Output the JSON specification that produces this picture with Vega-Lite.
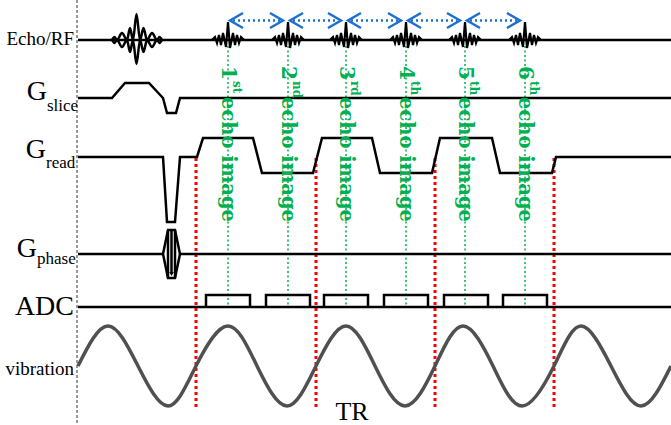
{
  "$schema": "https://vega.github.io/schema/vega-lite/v6.json",
  "width": 671,
  "height": 425,
  "autosize": "none",
  "padding": 0,
  "background": "white",
  "config": {"view": {"stroke": null}},
  "datasets": {
    "lines": [
      {"g":"rf0","o":0,"x":78,"y":40},{"g":"rf0","o":1,"x":671,"y":40},
      {"g":"sl","o":0,"x":78,"y":98},{"g":"sl","o":1,"x":112,"y":98},{"g":"sl","o":2,"x":125,"y":83},{"g":"sl","o":3,"x":149,"y":83},{"g":"sl","o":4,"x":163,"y":98},{"g":"sl","o":5,"x":167,"y":113},{"g":"sl","o":6,"x":176,"y":113},{"g":"sl","o":7,"x":180,"y":98},{"g":"sl","o":8,"x":671,"y":98},
      {"g":"rd","o":0,"x":78,"y":157},{"g":"rd","o":1,"x":163,"y":157},{"g":"rd","o":2,"x":167,"y":222},{"g":"rd","o":3,"x":175,"y":222},{"g":"rd","o":4,"x":180,"y":157},{"g":"rd","o":5,"x":197,"y":157},{"g":"rd","o":6,"x":203,"y":138},{"g":"rd","o":7,"x":253,"y":138},{"g":"rd","o":8,"x":262,"y":173},{"g":"rd","o":9,"x":313,"y":173},{"g":"rd","o":10,"x":322,"y":138},{"g":"rd","o":11,"x":372,"y":138},{"g":"rd","o":12,"x":380,"y":173},{"g":"rd","o":13,"x":432,"y":173},{"g":"rd","o":14,"x":440,"y":138},{"g":"rd","o":15,"x":492,"y":138},{"g":"rd","o":16,"x":500,"y":173},{"g":"rd","o":17,"x":552,"y":173},{"g":"rd","o":18,"x":556,"y":157},{"g":"rd","o":19,"x":671,"y":157},
      {"g":"ph","o":0,"x":78,"y":254},{"g":"ph","o":1,"x":163,"y":254},{"g":"ph","o":2,"x":168,"y":230},{"g":"ph","o":3,"x":175,"y":230},{"g":"ph","o":4,"x":180,"y":254},{"g":"ph","o":5,"x":671,"y":254},
      {"g":"ph2","o":0,"x":163,"y":254},{"g":"ph2","o":1,"x":168,"y":278},{"g":"ph2","o":2,"x":175,"y":278},{"g":"ph2","o":3,"x":180,"y":254},
      {"g":"ph3","o":0,"x":168,"y":230},{"g":"ph3","o":1,"x":168,"y":278},
      {"g":"ph4","o":0,"x":175,"y":230},{"g":"ph4","o":1,"x":175,"y":278},
      {"g":"ph5","o":0,"x":171.5,"y":231},{"g":"ph5","o":1,"x":171.5,"y":272},
      {"g":"adc","o":0,"x":78,"y":307},{"g":"adc","o":1,"x":671,"y":307},
      {"g":"b1","o":0,"x":206,"y":307},{"g":"b1","o":1,"x":206,"y":295},{"g":"b1","o":2,"x":250,"y":295},{"g":"b1","o":3,"x":250,"y":307},
      {"g":"b2","o":0,"x":266,"y":307},{"g":"b2","o":1,"x":266,"y":295},{"g":"b2","o":2,"x":310,"y":295},{"g":"b2","o":3,"x":310,"y":307},
      {"g":"b3","o":0,"x":324,"y":307},{"g":"b3","o":1,"x":324,"y":295},{"g":"b3","o":2,"x":368,"y":295},{"g":"b3","o":3,"x":368,"y":307},
      {"g":"b4","o":0,"x":384,"y":307},{"g":"b4","o":1,"x":384,"y":295},{"g":"b4","o":2,"x":428,"y":295},{"g":"b4","o":3,"x":428,"y":307},
      {"g":"b5","o":0,"x":444,"y":307},{"g":"b5","o":1,"x":444,"y":295},{"g":"b5","o":2,"x":488,"y":295},{"g":"b5","o":3,"x":488,"y":307},
      {"g":"b6","o":0,"x":503,"y":307},{"g":"b6","o":1,"x":503,"y":295},{"g":"b6","o":2,"x":547,"y":295},{"g":"b6","o":3,"x":547,"y":307}
    ],
    "rf": [
      {"g":"u","x":112,"y":40},{"g":"u","x":114.5,"y":37},{"g":"u","x":117,"y":40},{"g":"u","x":122,"y":33},{"g":"u","x":127,"y":40},{"g":"u","x":130,"y":28},{"g":"u","x":133,"y":40},{"g":"u","x":136.5,"y":14},{"g":"u","x":140,"y":40},{"g":"u","x":143.5,"y":28},{"g":"u","x":147,"y":40},{"g":"u","x":152,"y":33},{"g":"u","x":157,"y":40},{"g":"u","x":159.5,"y":37},{"g":"u","x":162,"y":40},
      {"g":"l","x":112,"y":40},{"g":"l","x":114.5,"y":43},{"g":"l","x":117,"y":40},{"g":"l","x":122,"y":47},{"g":"l","x":127,"y":40},{"g":"l","x":130,"y":52},{"g":"l","x":133,"y":40},{"g":"l","x":136.5,"y":64},{"g":"l","x":140,"y":40},{"g":"l","x":143.5,"y":52},{"g":"l","x":147,"y":40},{"g":"l","x":152,"y":47},{"g":"l","x":157,"y":40},{"g":"l","x":159.5,"y":43},{"g":"l","x":162,"y":40}
    ],
    "echo": [
      {"g":"e1","x":212,"y":40},{"g":"e1","x":215,"y":37},{"g":"e1","x":217,"y":43},{"g":"e1","x":219,"y":35},{"g":"e1","x":221,"y":45},{"g":"e1","x":223,"y":33},{"g":"e1","x":226,"y":47},{"g":"e1","x":228,"y":22},{"g":"e1","x":230,"y":48},{"g":"e1","x":233,"y":33},{"g":"e1","x":235,"y":45},{"g":"e1","x":237,"y":35},{"g":"e1","x":239,"y":43},{"g":"e1","x":241,"y":37},{"g":"e1","x":244,"y":40},
      {"g":"e2","x":272,"y":40},{"g":"e2","x":275,"y":37},{"g":"e2","x":277,"y":43},{"g":"e2","x":279,"y":35},{"g":"e2","x":281,"y":45},{"g":"e2","x":283,"y":33},{"g":"e2","x":286,"y":47},{"g":"e2","x":288,"y":22},{"g":"e2","x":290,"y":48},{"g":"e2","x":293,"y":33},{"g":"e2","x":295,"y":45},{"g":"e2","x":297,"y":35},{"g":"e2","x":299,"y":43},{"g":"e2","x":301,"y":37},{"g":"e2","x":304,"y":40},
      {"g":"e3","x":330,"y":40},{"g":"e3","x":333,"y":37},{"g":"e3","x":335,"y":43},{"g":"e3","x":337,"y":35},{"g":"e3","x":339,"y":45},{"g":"e3","x":341,"y":33},{"g":"e3","x":344,"y":47},{"g":"e3","x":346,"y":22},{"g":"e3","x":348,"y":48},{"g":"e3","x":351,"y":33},{"g":"e3","x":353,"y":45},{"g":"e3","x":355,"y":35},{"g":"e3","x":357,"y":43},{"g":"e3","x":359,"y":37},{"g":"e3","x":362,"y":40},
      {"g":"e4","x":390,"y":40},{"g":"e4","x":393,"y":37},{"g":"e4","x":395,"y":43},{"g":"e4","x":397,"y":35},{"g":"e4","x":399,"y":45},{"g":"e4","x":401,"y":33},{"g":"e4","x":404,"y":47},{"g":"e4","x":406,"y":22},{"g":"e4","x":408,"y":48},{"g":"e4","x":411,"y":33},{"g":"e4","x":413,"y":45},{"g":"e4","x":415,"y":35},{"g":"e4","x":417,"y":43},{"g":"e4","x":419,"y":37},{"g":"e4","x":422,"y":40},
      {"g":"e5","x":449,"y":40},{"g":"e5","x":452,"y":37},{"g":"e5","x":454,"y":43},{"g":"e5","x":456,"y":35},{"g":"e5","x":458,"y":45},{"g":"e5","x":460,"y":33},{"g":"e5","x":463,"y":47},{"g":"e5","x":465,"y":22},{"g":"e5","x":467,"y":48},{"g":"e5","x":470,"y":33},{"g":"e5","x":472,"y":45},{"g":"e5","x":474,"y":35},{"g":"e5","x":476,"y":43},{"g":"e5","x":478,"y":37},{"g":"e5","x":481,"y":40},
      {"g":"e6","x":509,"y":40},{"g":"e6","x":512,"y":37},{"g":"e6","x":514,"y":43},{"g":"e6","x":516,"y":35},{"g":"e6","x":518,"y":45},{"g":"e6","x":520,"y":33},{"g":"e6","x":523,"y":47},{"g":"e6","x":525,"y":22},{"g":"e6","x":527,"y":48},{"g":"e6","x":530,"y":33},{"g":"e6","x":532,"y":45},{"g":"e6","x":534,"y":35},{"g":"e6","x":536,"y":43},{"g":"e6","x":538,"y":37},{"g":"e6","x":541,"y":40}
    ],
    "vib": [
      {"x":78,"y":366},{"x":108,"y":326},{"x":138,"y":366},{"x":168,"y":406},{"x":196,"y":366},{"x":228,"y":326},{"x":257,"y":366},{"x":287,"y":406},{"x":316,"y":366},{"x":346,"y":326},{"x":375,"y":366},{"x":405,"y":406},{"x":435,"y":366},{"x":463,"y":326},{"x":493,"y":366},{"x":522,"y":406},{"x":554,"y":366},{"x":581,"y":326},{"x":611,"y":366},{"x":641,"y":406},{"x":671,"y":366}
    ],
    "chev": [
      {"g":"a1","o":0,"x":243,"y":13},{"g":"a1","o":1,"x":230,"y":20.5},{"g":"a1","o":2,"x":243,"y":28},
      {"g":"b1","o":0,"x":270,"y":13},{"g":"b1","o":1,"x":283,"y":20.5},{"g":"b1","o":2,"x":270,"y":28},
      {"g":"a2","o":0,"x":303,"y":13},{"g":"a2","o":1,"x":290,"y":20.5},{"g":"a2","o":2,"x":303,"y":28},
      {"g":"b2","o":0,"x":328,"y":13},{"g":"b2","o":1,"x":341,"y":20.5},{"g":"b2","o":2,"x":328,"y":28},
      {"g":"a3","o":0,"x":361,"y":13},{"g":"a3","o":1,"x":348,"y":20.5},{"g":"a3","o":2,"x":361,"y":28},
      {"g":"b3","o":0,"x":388,"y":13},{"g":"b3","o":1,"x":401,"y":20.5},{"g":"b3","o":2,"x":388,"y":28},
      {"g":"a4","o":0,"x":421,"y":13},{"g":"a4","o":1,"x":408,"y":20.5},{"g":"a4","o":2,"x":421,"y":28},
      {"g":"b4","o":0,"x":447,"y":13},{"g":"b4","o":1,"x":460,"y":20.5},{"g":"b4","o":2,"x":447,"y":28},
      {"g":"a5","o":0,"x":480,"y":13},{"g":"a5","o":1,"x":467,"y":20.5},{"g":"a5","o":2,"x":480,"y":28},
      {"g":"b5","o":0,"x":507,"y":13},{"g":"b5","o":1,"x":520,"y":20.5},{"g":"b5","o":2,"x":507,"y":28}
    ],
    "bluedot": [
      {"x":233,"x2":280,"y":20.5},{"x":293,"x2":338,"y":20.5},{"x":351,"x2":398,"y":20.5},{"x":411,"x2":457,"y":20.5},{"x":470,"x2":517,"y":20.5}
    ],
    "green": [
      {"x":228,"sx":237,"y":46,"y2":306,"n":"1","s":"st"},{"x":288,"sx":297,"y":46,"y2":306,"n":"2","s":"nd"},{"x":346,"sx":355,"y":46,"y2":306,"n":"3","s":"rd"},{"x":406,"sx":415,"y":46,"y2":306,"n":"4","s":"th"},{"x":465,"sx":474,"y":46,"y2":306,"n":"5","s":"th"},{"x":525,"sx":534,"y":46,"y2":306,"n":"6","s":"th"}
    ],
    "red": [
      {"x":196,"y":158,"y2":408},{"x":316,"y":158,"y2":408},{"x":435,"y":158,"y2":408},{"x":554,"y":158,"y2":408}
    ],
    "big": [
      {"t":"G","x":47,"y":100},{"t":"G","x":46,"y":158},{"t":"G","x":37,"y":257},{"t":"ADC","x":74,"y":315}
    ],
    "sub": [
      {"t":"slice","x":47,"y":111},{"t":"read","x":46,"y":168},{"t":"phase","x":37,"y":264}
    ],
    "mid": [
      {"t":"Echo/RF","x":74,"y":45},{"t":"vibration","x":74,"y":375}
    ]
  },
  "encoding": {
    "x": {"field": "x", "type": "quantitative", "scale": {"domain": [0, 671], "nice": false, "zero": false}, "axis": null},
    "y": {"field": "y", "type": "quantitative", "scale": {"domain": [0, 425], "nice": false, "zero": false, "reverse": true}, "axis": null}
  },
  "layer": [
    {
      "data": {"values": [{"x": 77, "y": 0, "y2": 425}]},
      "mark": {"type": "rule", "color": "#333333", "strokeWidth": 1, "strokeDash": [3, 2]},
      "encoding": {"y2": {"field": "y2"}}
    },
    {
      "data": {"name": "green"},
      "mark": {"type": "rule", "color": "#00b050", "strokeWidth": 1.5, "strokeDash": [2, 2.5]},
      "encoding": {"y2": {"field": "y2"}}
    },
    {
      "data": {"name": "red"},
      "mark": {"type": "rule", "color": "#ff0000", "strokeWidth": 3, "strokeDash": [3, 3]},
      "encoding": {"y2": {"field": "y2"}}
    },
    {
      "data": {"name": "lines"},
      "mark": {"type": "line", "color": "black", "strokeWidth": 2.5},
      "encoding": {"detail": {"field": "g"}, "order": {"field": "o", "type": "quantitative"}}
    },
    {
      "data": {"values": [{"x": 171.5, "y": 274}]},
      "mark": {"type": "point", "shape": "triangle-down", "filled": true, "color": "black", "size": 22, "opacity": 1}
    },
    {
      "data": {"name": "rf"},
      "mark": {"type": "line", "color": "black", "strokeWidth": 2.5, "interpolate": "monotone"},
      "encoding": {"detail": {"field": "g"}}
    },
    {
      "data": {"name": "echo"},
      "mark": {"type": "line", "color": "black", "strokeWidth": 2.2},
      "encoding": {"detail": {"field": "g"}}
    },
    {
      "data": {"name": "vib"},
      "mark": {"type": "line", "color": "#505050", "strokeWidth": 3.5, "interpolate": "natural"}
    },
    {
      "data": {"name": "chev"},
      "mark": {"type": "line", "color": "#1f6fd1", "strokeWidth": 2.5},
      "encoding": {"detail": {"field": "g"}, "order": {"field": "o", "type": "quantitative"}}
    },
    {
      "data": {"name": "bluedot"},
      "mark": {"type": "rule", "color": "#1f6fd1", "strokeWidth": 2.5, "strokeDash": [2, 3]},
      "encoding": {"x2": {"field": "x2"}}
    },
    {
      "data": {"name": "green"},
      "mark": {"type": "text", "angle": 90, "align": "left", "baseline": "middle", "font": "DejaVu Serif", "fontWeight": "bold", "fontSize": 20, "color": "#00b050"},
      "encoding": {"y": {"datum": 66}, "text": {"field": "n"}}
    },
    {
      "data": {"name": "green"},
      "mark": {"type": "text", "angle": 90, "align": "left", "baseline": "middle", "font": "DejaVu Serif", "fontWeight": "bold", "fontSize": 12, "color": "#00b050"},
      "encoding": {"x": {"field": "sx", "type": "quantitative"}, "y": {"datum": 81}, "text": {"field": "s"}}
    },
    {
      "data": {"name": "green"},
      "mark": {"type": "text", "angle": 90, "align": "left", "baseline": "middle", "font": "DejaVu Serif", "fontWeight": "bold", "fontSize": 19.5, "color": "#00b050"},
      "encoding": {"y": {"datum": 97}, "text": {"value": "echo image"}}
    },
    {
      "data": {"name": "big"},
      "mark": {"type": "text", "align": "right", "baseline": "alphabetic", "font": "Liberation Serif", "fontSize": 28, "color": "black"},
      "encoding": {"text": {"field": "t"}}
    },
    {
      "data": {"name": "sub"},
      "mark": {"type": "text", "align": "left", "baseline": "alphabetic", "font": "Liberation Serif", "fontSize": 17, "color": "black"},
      "encoding": {"text": {"field": "t"}}
    },
    {
      "data": {"name": "mid"},
      "mark": {"type": "text", "align": "right", "baseline": "alphabetic", "font": "Liberation Serif", "fontSize": 19, "color": "black"},
      "encoding": {"text": {"field": "t"}}
    },
    {
      "data": {"values": [{"t": "TR", "x": 352, "y": 420}]},
      "mark": {"type": "text", "align": "center", "baseline": "alphabetic", "font": "Liberation Serif", "fontSize": 26, "color": "black"},
      "encoding": {"text": {"field": "t"}}
    }
  ]
}
